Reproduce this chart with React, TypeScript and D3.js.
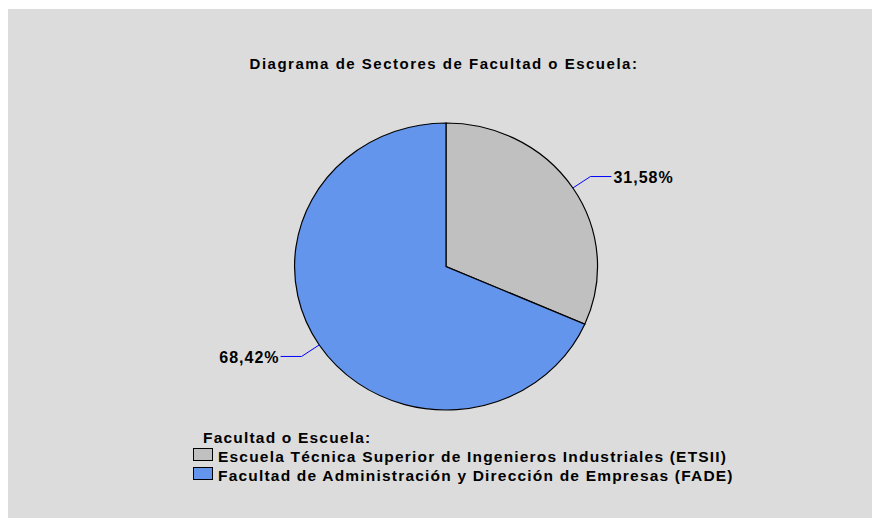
import React from "react";
import * as d3 from "d3";

const categories = [
  "Escuela Técnica Superior de Ingenieros Industriales (ETSII)",
  "Facultad de Administración y Dirección de Empresas (FADE)",
];
const values = [31.58, 68.42];
const labels = ["31,58%", "68,42%"];
const colors = ["#C0C0C0", "#6495ED"];
const title = "Diagrama de Sectores de Facultad o Escuela:";
const legendTitle = "Facultad o Escuela:";

export default function App() {
  const W = 872, H = 518;
  const cx = 446, cy = 266.5, rx = 151.5, ry = 143.5;
  const pie = d3.pie<number>().sort(null).value((d) => d)(values);
  const arc = d3.arc<d3.PieArcDatum<number>>().innerRadius(0).outerRadius(1);
  const font = "'Liberation Sans', Arial, sans-serif";
  return (
    <svg width={W} height={H} style={{ position: "absolute", left: 0, top: 0, display: "block" }}>
      <rect x={8} y={9} width={W} height={H} fill="#DCDCDC" />
      <text x={444} y={69} textAnchor="middle" fontFamily={font} fontWeight="bold" fontSize={15} letterSpacing={1.5} fill="#000">
        {title}
      </text>
      <g transform={`translate(${cx},${cy}) scale(${rx},${ry})`}>
        {pie.map((p, i) => (
          <path key={i} d={arc(p) || ""} fill={colors[i]} stroke="#000" strokeWidth={1.2} vectorEffect="non-scaling-stroke" />
        ))}
      </g>
      {pie.map((p, i) => {
        const a = (p.startAngle + p.endAngle) / 2;
        const sx = cx + rx * Math.sin(a), sy = cy - ry * Math.cos(a);
        const ex = sx + 21 * Math.sin(a), ey = sy - 21 * Math.cos(a);
        const right = Math.sin(a) >= 0;
        const hx = ex + (right ? 21 : -21);
        return (
          <g key={i}>
            <polyline points={`${sx},${sy} ${ex},${ey} ${hx},${ey}`} fill="none" stroke="#0000FF" strokeWidth={1} />
            <text x={hx + (right ? 2 : -1)} y={ey} dy="0.38em" textAnchor={right ? "start" : "end"}
              fontFamily={font} fontWeight="bold" fontSize={16} letterSpacing={1} fill="#000">
              {labels[i]}
            </text>
          </g>
        );
      })}
      <text x={203} y={443} fontFamily={font} fontWeight="bold" fontSize={15.5} letterSpacing={1.2} fill="#000">{legendTitle}</text>
      {categories.map((c, i) => (
        <g key={i}>
          <rect x={193.5} y={448.5 + i * 19} width={19} height={12} fill={colors[i]} stroke="#000" strokeWidth={1} />
          <text x={218} y={461.5 + i * 19} fontFamily={font} fontWeight="bold" fontSize={15.5} letterSpacing={1.2} fill="#000">{c}</text>
        </g>
      ))}
    </svg>
  );
}
